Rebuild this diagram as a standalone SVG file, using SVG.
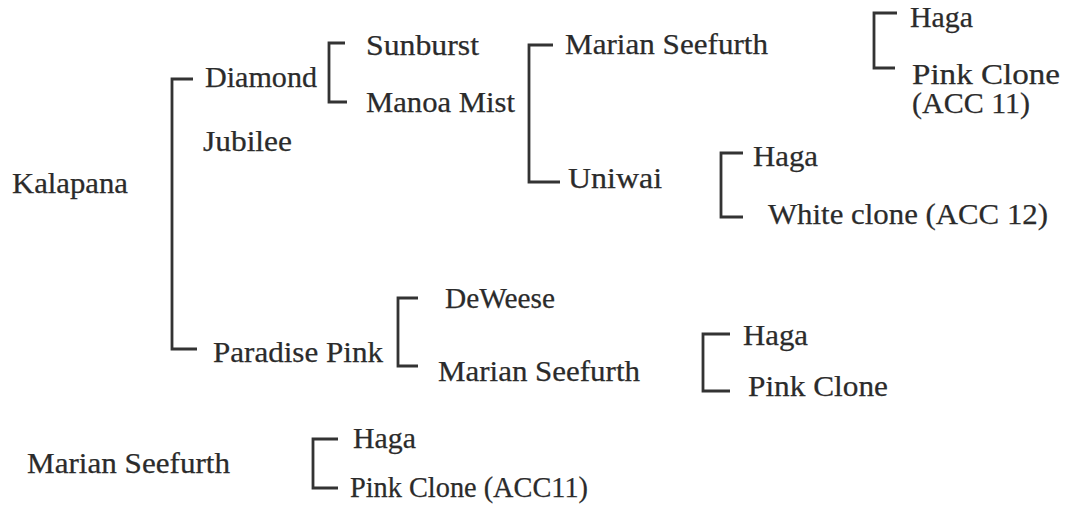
<svg xmlns="http://www.w3.org/2000/svg" width="1068" height="509" viewBox="0 0 1068 509">
<style>
text{font-family:"Liberation Serif","Times New Roman",Tinos,serif;font-size:29px;fill:#2b2b2b;stroke:#2b2b2b;stroke-width:0.25}
.c path{fill:none;stroke:#333;stroke-width:2.8}
</style>
<rect width="1068" height="509" fill="#fff"/>
<g class="c" id="connectors">
<path d="M193,79 H172 V349 H197"/>
<path d="M345,43 H329 V102 H347"/>
<path d="M553,45 H529 V182 H560"/>
<path d="M897,13 H874 V68 H895"/>
<path d="M743,153 H721 V217 H743"/>
<path d="M418,298 H398 V366 H418"/>
<path d="M730,334 H703 V391 H730"/>
<path d="M338,439 H313 V488 H338"/>
</g>
<g id="n-kalapana"><text x="12" y="193" textLength="116" lengthAdjust="spacingAndGlyphs">Kalapana</text></g>
<g id="n-diamond"><text x="205" y="87" textLength="112" lengthAdjust="spacingAndGlyphs">Diamond</text></g>
<g id="n-jubilee"><text x="203" y="151" textLength="89" lengthAdjust="spacingAndGlyphs">Jubilee</text></g>
<g id="n-sunburst"><text x="366" y="55" textLength="113" lengthAdjust="spacingAndGlyphs">Sunburst</text></g>
<g id="n-manoa"><text x="366" y="112" textLength="149" lengthAdjust="spacingAndGlyphs">Manoa Mist</text></g>
<g id="n-marian1"><text x="565" y="54" textLength="203" lengthAdjust="spacingAndGlyphs">Marian Seefurth</text></g>
<g id="n-uniwai"><text x="568" y="188" textLength="94" lengthAdjust="spacingAndGlyphs">Uniwai</text></g>
<g id="n-haga1"><text x="910" y="27" textLength="63" lengthAdjust="spacingAndGlyphs">Haga</text></g>
<g id="n-pink1"><text x="912" y="84" textLength="148" lengthAdjust="spacingAndGlyphs">Pink Clone</text><text x="912" y="113" textLength="118" lengthAdjust="spacingAndGlyphs">(ACC 11)</text></g>
<g id="n-haga2"><text x="753" y="166" textLength="65" lengthAdjust="spacingAndGlyphs">Haga</text></g>
<g id="n-white"><text x="768" y="224" textLength="280" lengthAdjust="spacingAndGlyphs">White clone (ACC 12)</text></g>
<g id="n-deweese"><text x="445" y="308" textLength="110" lengthAdjust="spacingAndGlyphs">DeWeese</text></g>
<g id="n-paradise"><text x="213" y="362" textLength="170" lengthAdjust="spacingAndGlyphs">Paradise Pink</text></g>
<g id="n-marian2"><text x="438" y="381" textLength="202" lengthAdjust="spacingAndGlyphs">Marian Seefurth</text></g>
<g id="n-haga3"><text x="743" y="345" textLength="65" lengthAdjust="spacingAndGlyphs">Haga</text></g>
<g id="n-pink2"><text x="748" y="396" textLength="140" lengthAdjust="spacingAndGlyphs">Pink Clone</text></g>
<g id="n-marian3"><text x="27" y="473" textLength="203" lengthAdjust="spacingAndGlyphs">Marian Seefurth</text></g>
<g id="n-haga4"><text x="353" y="448" textLength="63" lengthAdjust="spacingAndGlyphs">Haga</text></g>
<g id="n-pink3"><text x="350" y="497" textLength="238" lengthAdjust="spacingAndGlyphs">Pink Clone (ACC11)</text></g>
</svg>
